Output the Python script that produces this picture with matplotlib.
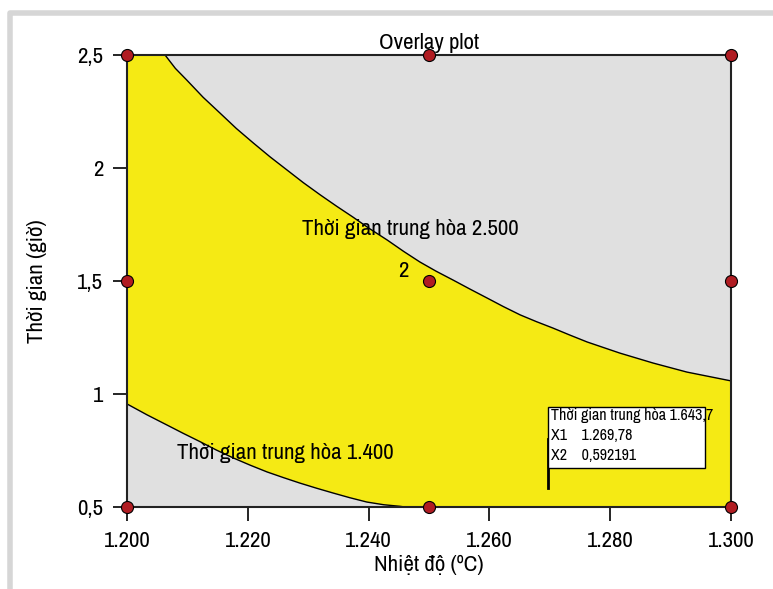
import numpy as np
import matplotlib.pyplot as plt
from matplotlib import font_manager
from matplotlib.patches import Rectangle, Polygon
from matplotlib.lines import Line2D

# font: a narrow one if there is one, else Liberation Sans a bit smaller
names = sorted(set(f.name for f in font_manager.fontManager.ttflist))
narrow = [n for n in names if 'Narrow' in n or 'Condensed' in n]
if narrow:
    fam, fs = narrow[0], 16.5
else:
    fam, fs = 'Liberation Sans', 13.5
plt.rcParams['font.family'] = [fam, 'DejaVu Sans']

# contour Thoi gian trung hoa = 2.500
up_x = [1206.3, 1208.0, 1209.9, 1212.6, 1215.4, 1218.1, 1220.9, 1223.7, 1226.5, 1229.2,
        1232.0, 1234.7, 1237.4, 1240.2, 1243.1, 1245.8, 1248.5, 1251.2, 1254.0, 1256.8,
        1259.6, 1262.3, 1265.1, 1267.8, 1270.5, 1273.3, 1276.2, 1281.6, 1287.1, 1292.7, 1300.0]
up_y = [2.500, 2.441, 2.389, 2.313, 2.243, 2.175, 2.111, 2.049, 1.991, 1.935,
        1.881, 1.831, 1.783, 1.731, 1.681, 1.631, 1.584, 1.543, 1.504, 1.464,
        1.425, 1.387, 1.350, 1.320, 1.292, 1.261, 1.230, 1.181, 1.137, 1.097, 1.058]
# contour Thoi gian trung hoa = 1.400
lo_x = [1200.0, 1203.3, 1206.6, 1209.3, 1212.1, 1214.8, 1217.6, 1220.4, 1223.2, 1225.9,
        1228.6, 1231.4, 1234.1, 1236.9, 1239.7, 1242.5, 1245.2, 1246.0]
lo_y = [0.956, 0.908, 0.863, 0.826, 0.789, 0.752, 0.717, 0.685, 0.655, 0.630,
        0.606, 0.583, 0.562, 0.541, 0.522, 0.510, 0.503, 0.500]

# design points
pt_x = [1200, 1200, 1200, 1250, 1250, 1250, 1300, 1300, 1300]
pt_y = [0.5, 1.5, 2.5, 0.5, 1.5, 2.5, 0.5, 1.5, 2.5]

x_ticks = [1200, 1220, 1240, 1260, 1280, 1300]
x_labels = ['1.200', '1.220', '1.240', '1.260', '1.280', '1.300']
y_ticks = [0.5, 1, 1.5, 2, 2.5]
y_labels = ['0,5', '1', '1,5', '2', '2,5']

flag_x, flag_y = 1269.78, 0.592191
flag_lines = ['Thời gian trung hòa 1.643,7', 'X1    1.269,78', 'X2    0,592191']

xmin, xmax, ymin, ymax = 1200, 1300, 0.5, 2.5

fig = plt.figure(figsize=(7.73, 5.89), dpi=100)
# light gray frame around the picture
fig.add_artist(Line2D([10 / 773, 10 / 773, 1], [0, 1 - 12.5 / 589, 1 - 12.5 / 589],
                      color='#d6d6d6', lw=4, transform=fig.transFigure))

ax = fig.add_axes([127 / 773, 1 - 507 / 589, 604 / 773, 452 / 589])
ax.set_xlim(xmin, xmax)
ax.set_ylim(ymin, ymax)
ax.set_facecolor('#e0e0e0')

# yellow area between the two contours
poly = list(zip(up_x[::-1], up_y[::-1]))
poly = [(xmax, ymin)] + poly + [(xmin, ymax)] + list(zip(lo_x, lo_y))
ax.add_patch(Polygon(poly, closed=True, facecolor='#f5ea14', edgecolor='none', zorder=1))
ax.plot(up_x, up_y, color='black', lw=1.0, zorder=2)
ax.plot(lo_x, lo_y, color='black', lw=1.0, zorder=2)

ax.scatter(pt_x, pt_y, s=75, color='#b01c22', edgecolor='black', linewidth=0.8,
           zorder=5, clip_on=False)

ax.text(1246.9, 1.73, 'Thời gian trung hòa 2.500', fontsize=fs, ha='center', va='center', zorder=4)
ax.text(1226.2, 0.739, 'Thời gian trung hòa 1.400', fontsize=fs, ha='center', va='center', zorder=4)
ax.text(1245.7, 1.545, '2', fontsize=fs, ha='center', va='center', zorder=4)

# flag
ax.plot([flag_x, flag_x], [flag_y - 0.01, 0.80], color='black', lw=2, zorder=6)
ax.add_patch(Rectangle((flag_x, 0.673), 25.9, 0.27, facecolor='white',
                       edgecolor='black', lw=1.0, zorder=6))
for i, s in enumerate(flag_lines):
    ax.text(flag_x + 0.4, 0.938 - i * 0.088, s, fontsize=fs * 0.7, ha='left', va='top', zorder=7)

ax.set_xticks(x_ticks)
ax.set_xticklabels(x_labels)
ax.set_yticks(y_ticks)
ax.set_yticklabels(y_labels)
ax.tick_params(direction='out', length=10, width=1.2, labelsize=fs, pad=7)
for sp in ax.spines.values():
    sp.set_linewidth(1.5)
    sp.set_color('#222222')

ax.set_title('Overlay plot', fontsize=fs, pad=4)
ax.set_xlabel('Nhiệt độ (ºC)', fontsize=fs, labelpad=3)
ax.set_ylabel('Thời gian (giờ)', fontsize=fs, labelpad=22)

fig.savefig('out.png', dpi=100)
